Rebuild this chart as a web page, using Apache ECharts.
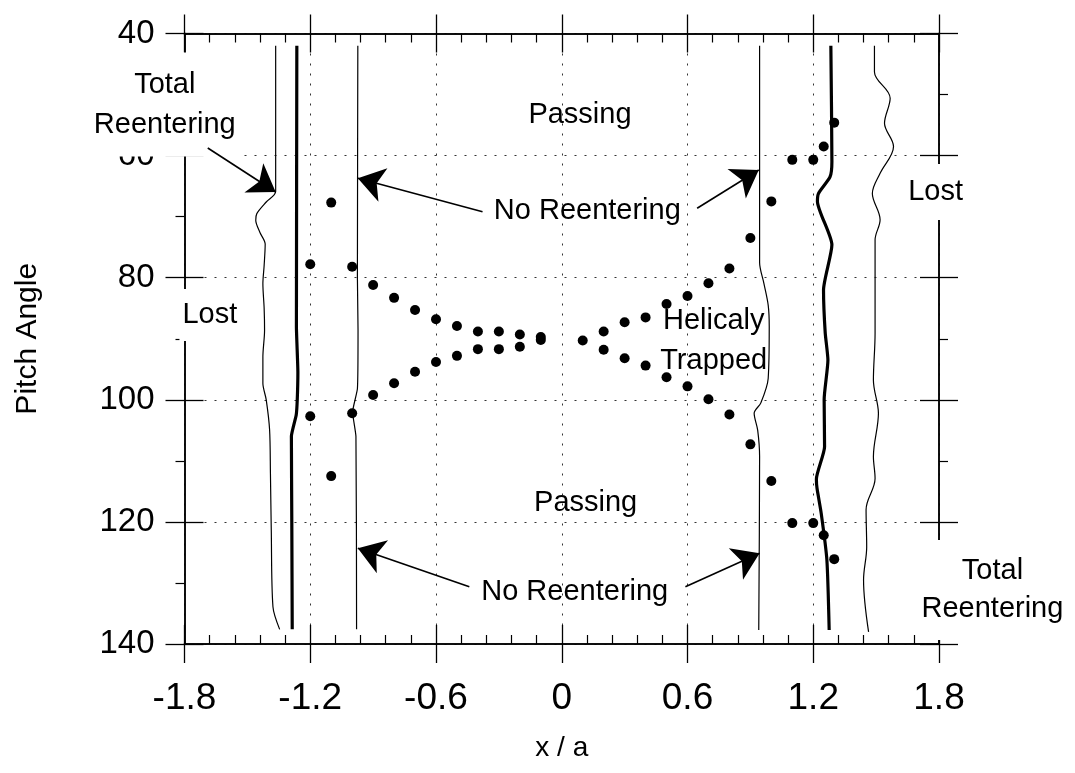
<!DOCTYPE html>
<html>
<head>
<meta charset="utf-8">
<script src="https://cdn.jsdelivr.net/npm/echarts@6/dist/echarts.min.js"></script>
<style>
html,body{margin:0;padding:0;background:#fff;}
#chart{width:1075px;height:773px;}
</style>
</head>
<body>
<div id="chart"></div>
<script>
// ---- axis ranges / ticks ----
const X_MIN = -1.8, X_MAX = 1.8, X_STEP = 0.6;
const Y_MIN = 40, Y_MAX = 140, Y_STEP = 20;
const X_NAME = 'x / a';
const Y_NAME = 'Pitch Angle';

// ---- particle orbit points (x/a, pitch angle) ----
const upperX = [-1.2, -1.1, -1.0, -0.9, -0.8, -0.7, -0.6, -0.5, -0.4, -0.3, -0.2, -0.1,
                0.1, 0.2, 0.3, 0.4, 0.5, 0.6, 0.7, 0.8, 0.9, 1.0, 1.1, 1.2, 1.25, 1.3];
const upperY = [77.8, 67.7, 78.2, 81.2, 83.3, 85.3, 86.8, 87.9, 88.8, 88.8, 89.3, 89.7,
                90.3, 88.8, 87.3, 86.5, 84.3, 83.0, 80.9, 78.5, 73.5, 67.5, 60.7, 60.7, 58.5, 54.6];
const lowerX = [-1.2, -1.1, -1.0, -0.9, -0.8, -0.7, -0.6, -0.5, -0.4, -0.3, -0.2, -0.1,
                0.2, 0.3, 0.4, 0.5, 0.6, 0.7, 0.8, 0.9, 1.0, 1.1, 1.2, 1.25, 1.3];
const lowerY = [102.7, 112.5, 102.2, 99.2, 97.3, 95.4, 93.8, 92.8, 91.7, 91.7, 91.3, 90.2,
                91.8, 93.2, 94.4, 96.3, 97.8, 99.9, 102.4, 107.3, 113.3, 120.2, 120.2, 122.2, 126.1];

// ---- boundary curves (x/a, pitch angle) ----
const leftLossBoundary = [[-1.365,42],[-1.365,65.9],[-1.41,67.6],[-1.455,69.5],[-1.46,70.6],[-1.44,72.6],
  [-1.415,74.5],[-1.42,78],[-1.426,81],[-1.42,85],[-1.418,88.6],[-1.426,93],[-1.426,97.3],[-1.41,100],
  [-1.394,104.9],[-1.39,112],[-1.386,121.3],[-1.378,133.9],[-1.346,137.6]];
const leftTotalBoundary = [[-1.264,42],[-1.266,88],[-1.259,95.5],[-1.262,100],[-1.267,102.5],
  [-1.29,106],[-1.288,120],[-1.286,137.6]];
const leftNoReentry = [[-0.973,42],[-0.975,80],[-0.972,88.6],[-0.975,98.2],[-0.998,102],
  [-0.982,106],[-0.979,137.6]];
const rightNoReentry = [[0.944,42],[0.944,77.5],[0.965,81],[0.985,84.5],[0.99,88],[0.985,96.5],
  [0.95,100.5],[0.918,102.2],[0.935,105],[0.944,109.3],[0.94,137.7]];
const rightTotalBoundary = [[1.284,42],[1.289,61],[1.28,63.5],[1.225,66.2],[1.22,67.5],[1.289,74.6],
  [1.249,82],[1.257,89],[1.27,93.5],[1.252,100],[1.254,107.7],[1.215,113],[1.218,114.5],
  [1.238,118.6],[1.265,126.2],[1.276,137.7]];
const rightLossBoundary = [[1.492,42],[1.492,46.3],[1.567,50.6],[1.54,54.7],[1.583,58.5],[1.519,62.9],
  [1.482,66.2],[1.519,70.5],[1.495,73.8],[1.495,89.1],[1.487,96.8],[1.511,102.2],[1.487,109.3],
  [1.495,112.9],[1.452,118],[1.455,124.1],[1.44,129.5],[1.464,138]];

// ---- annotations ----
const noteText = ['Total\nReentering', 'Passing', 'No Reentering', 'Lost', 'Lost',
                  'Helicaly\nTrapped', 'Passing', 'No Reentering', 'Total\nReentering'];
const notePos = [[-1.894,51.63],[0.087,53.35],[0.122,69.07],[-1.679,86.11],[1.784,65.96],
                 [0.725,90.37],[0.114,116.9],[0.062,131.56],[2.055,131.16]];
const arrowTail = [[-1.689,58.75],[-0.378,69.19],[0.646,68.63],[-0.441,130.61],[0.590,130.61],[1.954,123.24]];
const arrowTip  = [[-1.365,65.96],[-0.973,63.72],[0.940,62.36],[-0.973,124.32],[0.944,125.14],[1.495,112.6]];

// ---- build ----
const FONT = "'Liberation Sans', Arial, Helvetica, sans-serif";
const zip = (xs, ys) => xs.map((x, i) => [x, ys[i]]);
const dots = zip(upperX, upperY).concat(zip(lowerX, lowerY));

// boxed labels cover the axis line behind them
const boxStyle = {
  0: {lineHeight: 40, padding: [12, 2]},
  3: {lineHeight: 30, padding: [11, 3]},
  4: {lineHeight: 30, padding: [13, 4]},
  8: {lineHeight: 38, padding: [8, 2, 16, 2]}
};
const noteData = noteText.map((t, i) => {
  const b = boxStyle[i];
  const label = {
    show: true, position: 'inside', formatter: t, fontFamily: FONT, fontSize: 29,
    color: '#000', opacity: 1, textBorderWidth: 0, lineHeight: 40, align: 'center', verticalAlign: 'middle'
  };
  if (b) { Object.assign(label, b, {backgroundColor: '#fff'}); }
  return {value: notePos[i], label: label};
});
const arrowData = arrowTail.map((s, i) => [{coord: s}, {coord: arrowTip[i]}]);

function xAx(pos, inside, withLabel, minor, split) {
  return {
    type: 'value', position: pos, min: X_MIN, max: X_MAX, interval: X_STEP,
    axisLine: {show: true, onZero: false, lineStyle: {color: '#000', width: 1.5}},
    axisTick: {show: true, inside: inside, length: 19, lineStyle: {color: '#000', width: 1.3}},
    minorTick: {show: minor, splitNumber: 5, length: 9, lineStyle: {color: '#000', width: 1.2}},
    axisLabel: {show: withLabel, margin: 36, fontSize: 37, color: '#000', fontFamily: FONT},
    splitLine: {show: split, lineStyle: {type: [2, 8], color: '#333', width: 1}},
    name: withLabel ? X_NAME : '', nameLocation: 'middle', nameGap: 90,
    nameTextStyle: {fontSize: 28, color: '#000', fontFamily: FONT}
  };
}
function yAx(pos, inside, withLabel, minor, split) {
  return {
    type: 'value', position: pos, inverse: true, min: Y_MIN, max: Y_MAX, interval: Y_STEP,
    axisLine: {show: true, onZero: false, lineStyle: {color: '#000', width: 1.5}},
    axisTick: {show: true, inside: inside, length: 19, lineStyle: {color: '#000', width: 1.3}},
    minorTick: {show: minor, splitNumber: 2, length: 9, lineStyle: {color: '#000', width: 1.2}},
    axisLabel: {show: withLabel, margin: 30, fontSize: 33, color: '#000', fontFamily: FONT},
    splitLine: {show: split, lineStyle: {type: [2, 8], color: '#333', width: 1}},
    name: withLabel ? Y_NAME : '', nameLocation: 'middle', nameGap: 142, nameRotate: 90,
    nameTextStyle: {fontSize: 30, color: '#000', fontFamily: FONT}
  };
}

function curve(data, width, smooth) {
  return {
    type: 'line', data: data, xAxisIndex: 0, yAxisIndex: 0, showSymbol: false, symbol: 'none',
    smooth: smooth, lineStyle: {color: '#000', width: width}, itemStyle: {color: '#000'}, silent: true, z: 3
  };
}

const chart = echarts.init(document.getElementById('chart'), null, {renderer: 'canvas'});
chart.setOption({
  animation: false,
  backgroundColor: '#fff',
  grid: {left: 184.5, right: 136, top: 33.5, bottom: 129, containLabel: false, outerBoundsMode: 'none'},
  xAxis: [
    xAx('bottom', false, true, false, true),
    xAx('bottom', true, false, true, false),
    xAx('top', false, false, false, false),
    xAx('top', true, false, true, false)
  ],
  yAxis: [
    yAx('left', false, true, true, true),
    yAx('left', true, false, false, false),
    yAx('right', false, false, true, false),
    yAx('right', true, false, false, false)
  ],
  series: [
    curve(leftLossBoundary, 1.2, 0.3),
    curve(leftTotalBoundary, 3.2, 0.15),
    curve(leftNoReentry, 1.2, 0.15),
    curve(rightNoReentry, 1.2, 0.3),
    curve(rightTotalBoundary, 3.2, 0.2),
    curve(rightLossBoundary, 1.2, 0.35),
    {
      type: 'scatter', data: noteData, xAxisIndex: 0, yAxisIndex: 0, symbolSize: 0, clip: false,
      itemStyle: {color: '#000', opacity: 1}, silent: true, z: 3.5
    },
    {
      type: 'scatter', data: dots, xAxisIndex: 0, yAxisIndex: 0, symbol: 'circle', symbolSize: 10,
      itemStyle: {color: '#000', opacity: 1}, silent: true, z: 4, clip: false,
      markLine: {
        silent: true, symbol: ['none', 'arrow'], symbolSize: 26,
        label: {show: false}, emphasis: {disabled: true},
        itemStyle: {color: '#000'},
        lineStyle: {color: '#000', width: 1.6, type: 'solid', opacity: 1},
        data: arrowData
      }
    }
  ]
});
</script>
</body>
</html>
